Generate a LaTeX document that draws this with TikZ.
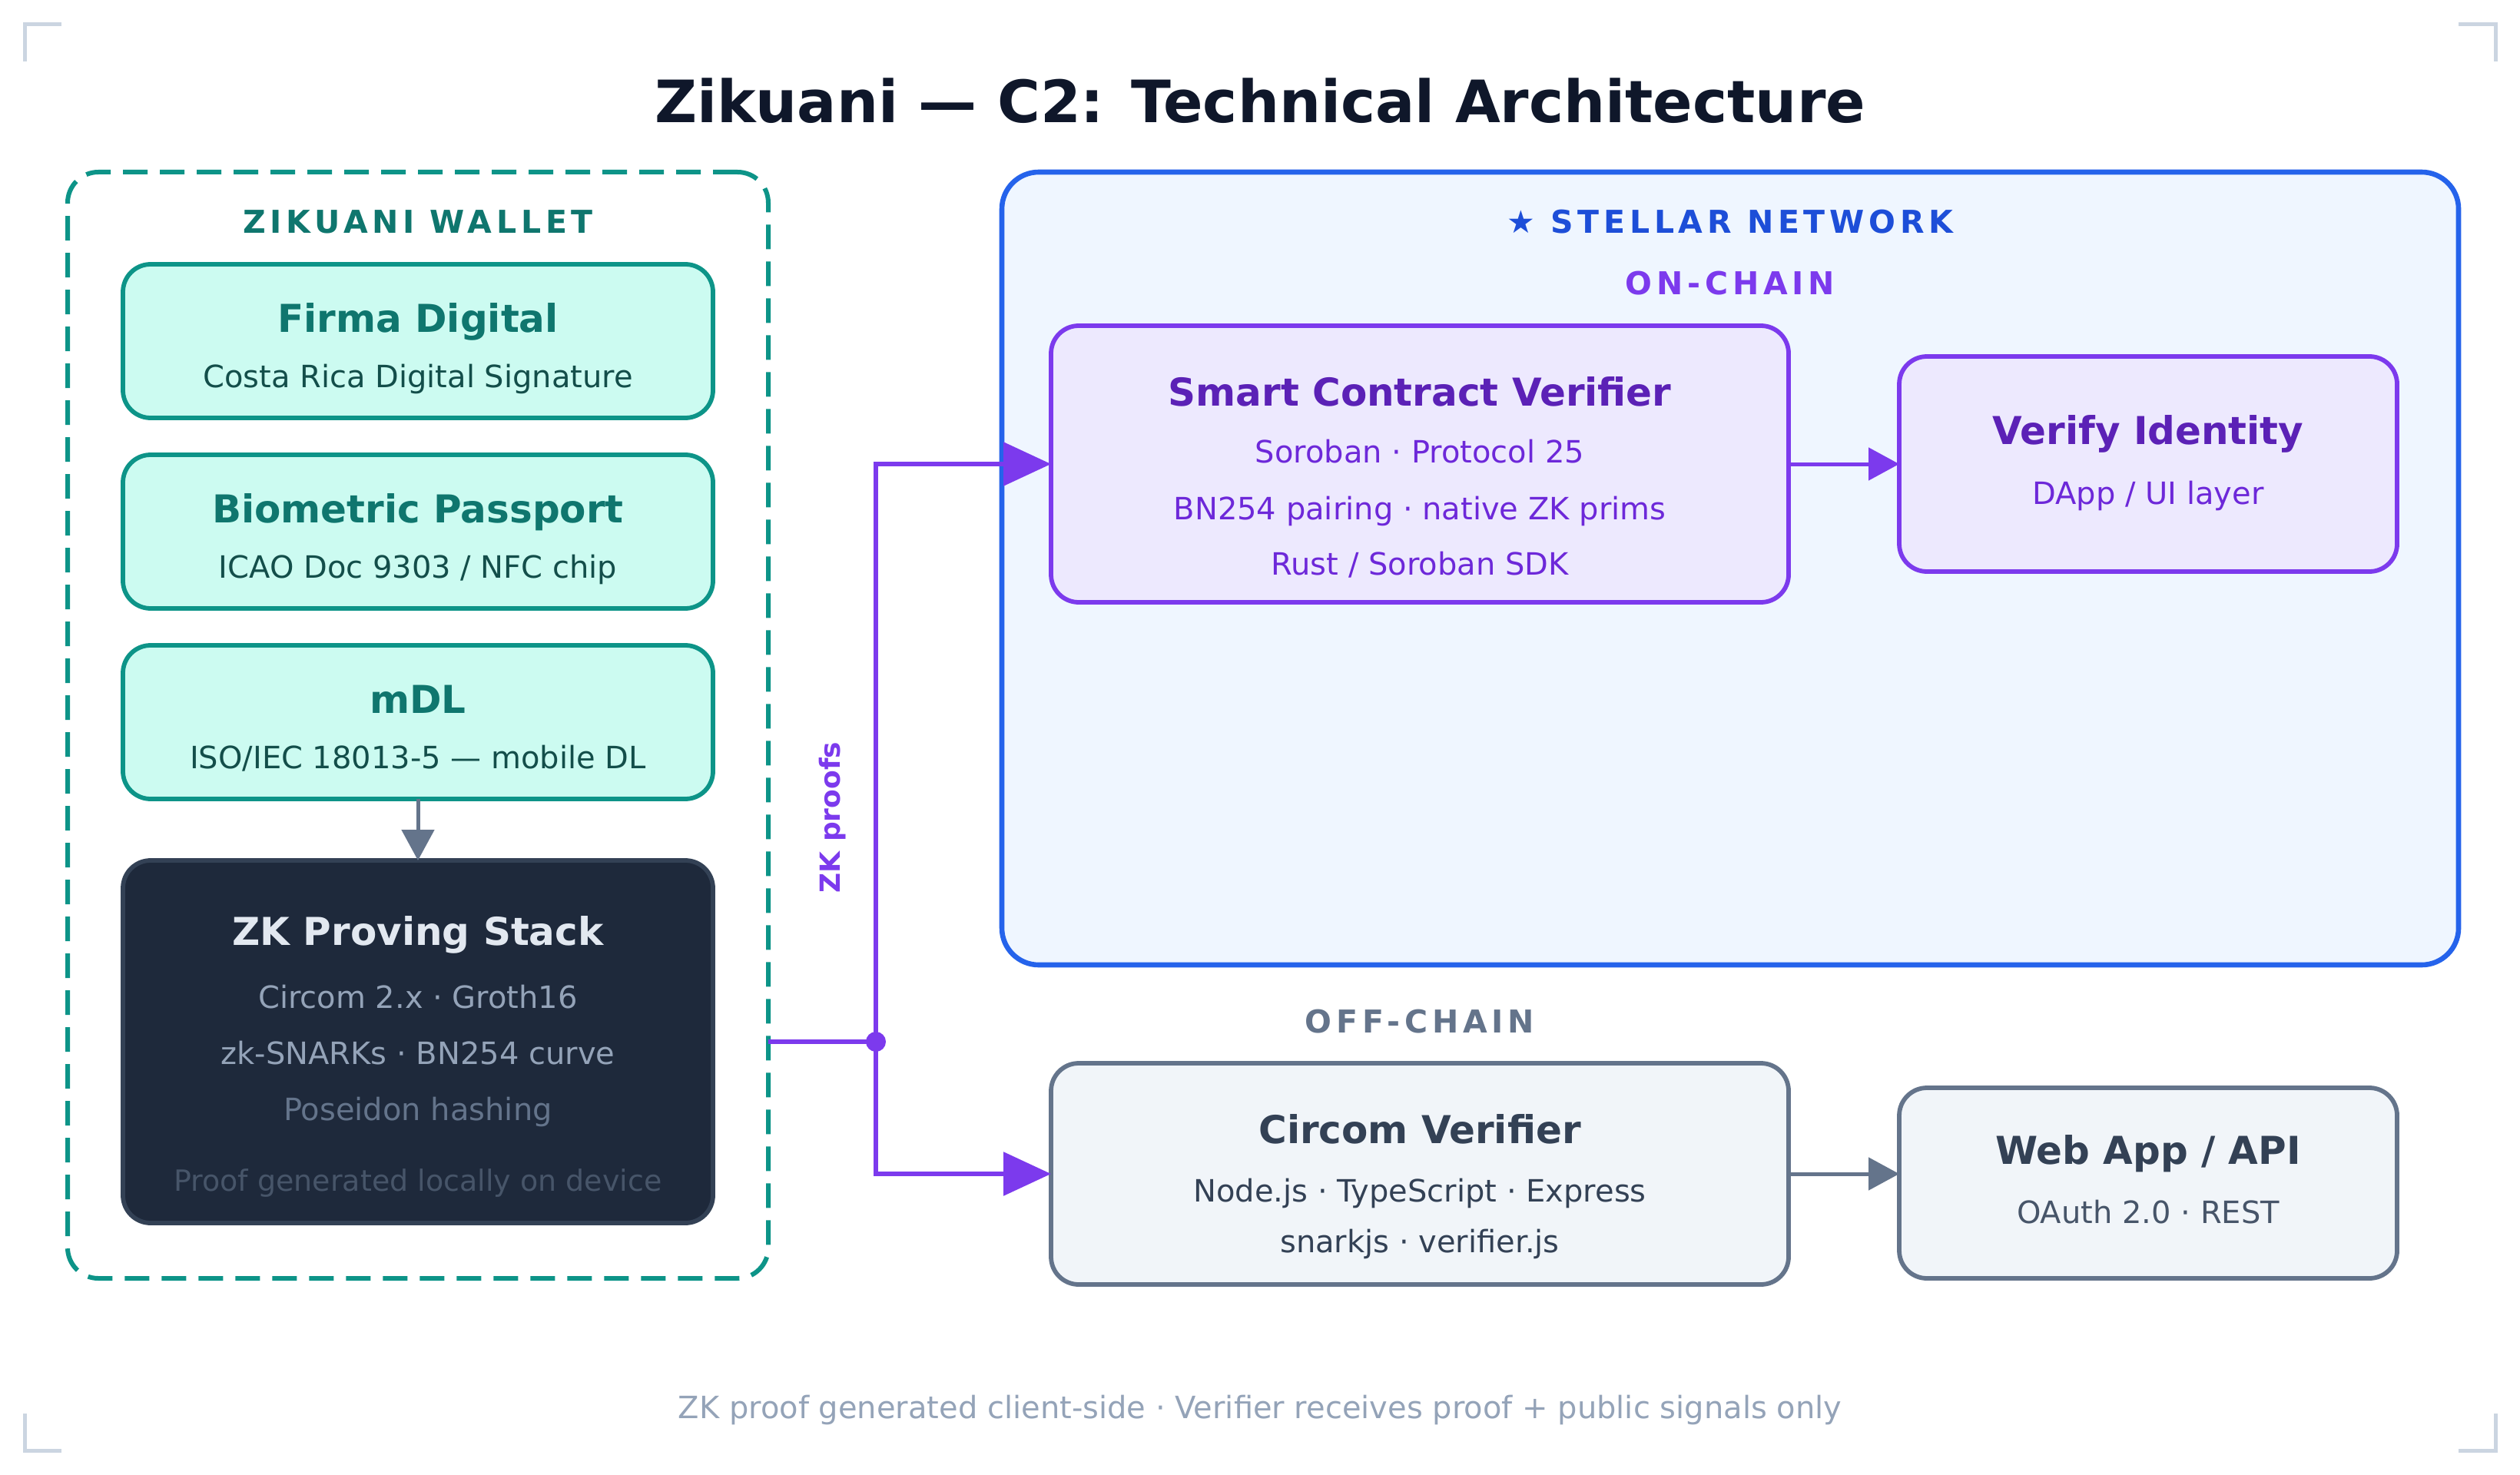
\documentclass[tikz,border=0pt]{standalone}
\usepackage{fontspec}
\setmainfont{DejaVu Sans}
\newfontfamily\lsfont{DejaVu Sans}[LetterSpace=14]
\usetikzlibrary{arrows.meta}
\definecolor{teal6}{HTML}{0D9488}
\definecolor{teal1}{HTML}{CCFBF1}
\definecolor{teal7}{HTML}{0F766E}
\definecolor{teal9}{HTML}{134E4A}
\definecolor{slate9}{HTML}{0F172A}
\definecolor{slate8}{HTML}{1E293B}
\definecolor{slate7}{HTML}{334155}
\definecolor{slate6}{HTML}{475569}
\definecolor{slate5}{HTML}{64748B}
\definecolor{slate4}{HTML}{94A3B8}
\definecolor{slate3}{HTML}{CBD5E1}
\definecolor{slate2}{HTML}{E2E8F0}
\definecolor{slate1}{HTML}{F1F5F9}
\definecolor{blue6}{HTML}{2563EB}
\definecolor{blue7}{HTML}{1D4ED8}
\definecolor{blue0}{HTML}{EFF6FF}
\definecolor{vio6}{HTML}{7C3AED}
\definecolor{vio7}{HTML}{6D28D9}
\definecolor{vio8}{HTML}{5B21B6}
\definecolor{vio1}{HTML}{EDE9FE}
\newcommand\fsz[1]{\fontsize{#1}{#1}\selectfont}
\tikzset{
  box/.style={draw, rounded corners=18pt, line width=2.9pt, inner sep=0pt, outer sep=0pt},
  tealbox/.style={box, draw=teal6, fill=teal1, minimum width=384pt, minimum height=100pt},
  violetbox/.style={box, draw=vio6, fill=vio1},
  slatebox/.style={box, draw=slate5, fill=slate1},
  txt/.style={anchor=base, inner sep=0pt, outer sep=0pt},
  ttl/.style={txt, font=\fsz{25}\bfseries},
  sub/.style={txt, font=\fsz{20}},
  sect/.style={txt, font=\lsfont\fsz{20.5}\bfseries},
  corner/.style={draw=slate3, line width=2.5pt},
  grayarrow/.style={draw=slate5, line width=2.5pt, -{Triangle[length=20pt,width=21pt]}},
  purpleline/.style={draw=vio6, line width=3pt},
  purplearrow/.style={purpleline, -{Triangle[length=31pt,width=28pt]}},
}
\begin{document}
\begin{tikzpicture}[x=1pt,y=-1pt]
\fill[white] (0,0) rectangle (1640,960);
\useasboundingbox (0,0) rectangle (1640,960);
% corner marks
\draw[corner] (16,40) -- (16,16) -- (40,16);
\draw[corner] (1600,16) -- (1624,16) -- (1624,40);
\draw[corner] (16,920) -- (16,944) -- (40,944);
\draw[corner] (1600,944) -- (1624,944) -- (1624,920);
% title
\node[txt, font=\fsz{38}\bfseries, text=slate9] (title) at (820,80) {Zikuani — C2: Technical Architecture};
% wallet
\node[box, draw=teal6, line width=3pt, dash pattern=on 16pt off 8pt, rounded corners=20pt, minimum width=456pt, minimum height=720pt] (wallet) at (272,472) {};
\node[sect, text=teal7] (wallettitle) at (272,152) {ZIKUANI WALLET};
\node[tealbox] (firma) at (272,222) {};
\node[ttl, text=teal7] (firmat) at (272,216) {Firma Digital};
\node[sub, text=teal9] (firmas) at (272,252) {Costa Rica Digital Signature};
\node[tealbox] (bio) at (272,346) {};
\node[ttl, text=teal7] (biot) at (272,340) {Biometric Passport};
\node[sub, text=teal9] (bios) at (272,376) {ICAO Doc 9303 / NFC chip};
\node[tealbox] (mdl) at (272,470) {};
\node[ttl, text=teal7] (mdlt) at (272,464) {mDL};
\node[sub, text=teal9] (mdls) at (272,500) {ISO/IEC 18013-5 — mobile DL};
\node[box, draw=slate7, fill=slate8, minimum width=384pt, minimum height=236pt] (zk) at (272,678) {};
\node[ttl, text=slate2] (zkt) at (272,615) {ZK Proving Stack};
\node[sub, text=slate4] (zks1) at (272,656) {Circom 2.x · Groth16};
\node[sub, text=slate4] (zks2) at (272,692.5) {zk-SNARKs · BN254 curve};
\node[sub, text=slate5] (zks3) at (272,729) {Poseidon hashing};
\node[txt, font=\fsz{19}, text=slate6] (zks4) at (272,775) {Proof generated locally on device};
\draw[grayarrow] (mdl) -- (zk);
% stellar
\node[box, draw=blue6, fill=blue0, line width=3.3pt, rounded corners=24pt, minimum width=948pt, minimum height=516pt] (stellar) at (1126,370) {};
\node[sect, text=blue7] (stellart) at (1126,152) {{\fontspec{DejaVu Sans}\mdseries ★} STELLAR NETWORK};
\node[sect, text=vio6] (onchain) at (1126,192) {ON-CHAIN};
\node[violetbox, minimum width=480pt, minimum height=180pt] (scv) at (924,302) {};
\node[ttl, text=vio8] (scvt) at (924,264) {Smart Contract Verifier};
\node[sub, text=vio7] (scvs1) at (924,301) {Soroban · Protocol 25};
\node[sub, text=vio7] (scvs2) at (924,338) {BN254 pairing · native ZK prims};
\node[sub, text=vio7] (scvs3) at (924,374) {Rust / Soroban SDK};
\node[violetbox, minimum width=324pt, minimum height=140pt] (vi) at (1398,302) {};
\node[ttl, text=vio8] (vit) at (1398,289) {Verify Identity};
\node[sub, text=vio7] (vis) at (1398,328) {DApp / UI layer};
\draw[draw=vio6, line width=2.5pt, -{Triangle[length=20pt,width=21pt]}] (scv) -- (vi);
% off-chain
\node[sect, text=slate5] (offchain) at (924,672) {OFF-CHAIN};
\node[slatebox, minimum width=480pt, minimum height=144pt] (cv) at (924,764) {};
\node[ttl, text=slate7] (cvt) at (924,744) {Circom Verifier};
\node[sub, text=slate7] (cvs1) at (924,782) {Node.js · TypeScript · Express};
\node[sub, text=slate7] (cvs2) at (924,815) {snarkjs · verifier.js};
\node[slatebox, minimum width=324pt, minimum height=124pt] (wa) at (1398,770) {};
\node[ttl, text=slate7] (wat) at (1398,757.5) {Web App / API};
\node[sub, text=slate6] (was) at (1398,796) {OAuth 2.0 · REST};
\draw[grayarrow] (cv.east) -- (cv.east -| wa.west);
% ZK proofs connector
\coordinate (j) at (570,678);
\draw[purpleline] (j -| wallet.east) -- (j);
\draw[purplearrow] (j) |- (scv.west);
\draw[purplearrow] (j) |- (cv.west);
\fill[vio6] (j) circle (6.5);
\node[txt, font=\fsz{18}\bfseries, text=vio6, rotate=90] (zklabel) at (546.5,532) {ZK proofs};
% footer
\node[txt, font=\fsz{20}, text=slate4] (footer) at (820,923) {ZK proof generated client-side · Verifier receives proof + public signals only};
\end{tikzpicture}
\end{document}
